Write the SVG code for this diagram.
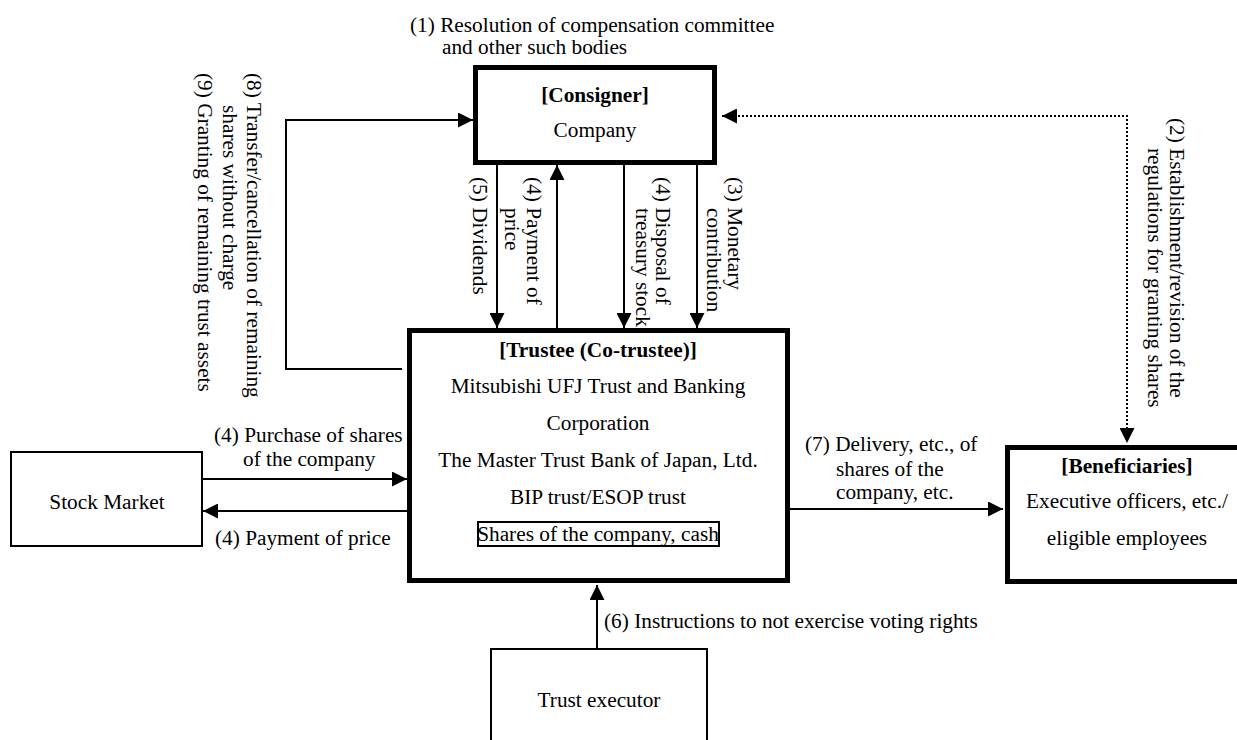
<svg xmlns="http://www.w3.org/2000/svg" width="1237" height="740" viewBox="0 0 1237 740">
<style>
text{font-family:"Liberation Serif","Times New Roman",serif;font-size:21.3px;fill:#000}
.b{font-weight:bold}
.m{text-anchor:middle}
.thick{fill:#fff;stroke:#000;stroke-width:5}
.thin{fill:#fff;stroke:#000;stroke-width:2}
.c{fill:none;stroke:#000;stroke-width:2}
.d{fill:none;stroke:#000;stroke-width:2;stroke-dasharray:2 2}
</style>
<defs>
<marker id="ah" markerUnits="userSpaceOnUse" markerWidth="15" markerHeight="15" viewBox="0 0 15 15" refX="15" refY="7.5" orient="auto-start-reverse">
<path d="M0,0 L15,7.5 L0,15 z" fill="#000"/>
</marker>
</defs>
<rect width="1237" height="740" fill="#fff"/>

<g id="connectors">
<path class="c" d="M402,369 H286 V120 H473" marker-end="url(#ah)"/>
<path class="c" d="M497,165 V328" marker-end="url(#ah)"/>
<path class="c" d="M557,328 V165" marker-end="url(#ah)"/>
<path class="c" d="M624,165 V328" marker-end="url(#ah)"/>
<path class="c" d="M697,165 V328" marker-end="url(#ah)"/>
<path class="d" d="M722,116 H1127 V443" marker-start="url(#ah)" marker-end="url(#ah)"/>
<path class="c" d="M203,479 H407" marker-end="url(#ah)"/>
<path class="c" d="M407,511 H203" marker-end="url(#ah)"/>
<path class="c" d="M790,509 H1003" marker-end="url(#ah)"/>
<path class="c" d="M597,648 V585" marker-end="url(#ah)"/>
</g>

<g id="labels">
<text x="410" y="32">(1) Resolution of compensation committee</text>
<text x="442" y="54">and other such bodies</text>
<text transform="translate(1170,118) rotate(90)">(2) Establishment/revision of the</text>
<text transform="translate(1148,148) rotate(90)">regulations for granting shares</text>
<text transform="translate(728,177) rotate(90)">(3) Monetary</text>
<text transform="translate(707,208) rotate(90)">contribution</text>
<text transform="translate(656,177) rotate(90)">(4) Disposal of</text>
<text transform="translate(636,208) rotate(90)">treasury stock</text>
<text transform="translate(527,177) rotate(90)">(4) Payment of</text>
<text transform="translate(505,208) rotate(90)">price</text>
<text transform="translate(473,177) rotate(90)">(5) Dividends</text>
<text transform="translate(247,73) rotate(90)">(8) Transfer/cancellation of remaining</text>
<text transform="translate(223,105) rotate(90)">shares without charge</text>
<text transform="translate(198,73) rotate(90)">(9) Granting of remaining trust assets</text>
<text x="214" y="442">(4) Purchase of shares</text>
<text x="243" y="466">of the company</text>
<text x="215" y="545">(4) Payment of price</text>
<text x="805" y="451">(7) Delivery, etc., of</text>
<text x="836" y="476">shares of the</text>
<text x="836" y="499">company, etc.</text>
<text x="604" y="628">(6) Instructions to not exercise voting rights</text>
</g>

<g id="consigner">
<rect class="thick" x="475.5" y="67.5" width="239" height="95"/>
<text class="b m" x="595" y="102">[Consigner]</text>
<text class="m" x="595" y="137">Company</text>
</g>

<g id="trustee">
<rect class="thick" x="409.5" y="330.5" width="378" height="250"/>
<text class="b m" x="598" y="357">[Trustee (Co-trustee)]</text>
<text class="m" x="598" y="393">Mitsubishi UFJ Trust and Banking</text>
<text class="m" x="598" y="430">Corporation</text>
<text class="m" x="598" y="467">The Master Trust Bank of Japan, Ltd.</text>
<text class="m" x="598" y="504">BIP trust/ESOP trust</text>
<rect x="478" y="522" width="241" height="24" fill="none" stroke="#000" stroke-width="2"/>
<text class="m" x="598" y="541">Shares of the company, cash</text>
</g>

<g id="stock-market">
<rect class="thin" x="11" y="452" width="191" height="94"/>
<text class="m" x="107" y="509">Stock Market</text>
</g>

<g id="beneficiaries">
<rect class="thick" x="1007.5" y="447.5" width="250" height="134"/>
<text class="b m" x="1127" y="473">[Beneficiaries]</text>
<text class="m" x="1127" y="508">Executive officers, etc./</text>
<text class="m" x="1127" y="545">eligible employees</text>
</g>

<g id="trust-executor">
<rect class="thin" x="491" y="649" width="216" height="110"/>
<text class="m" x="599" y="707">Trust executor</text>
</g>
</svg>
